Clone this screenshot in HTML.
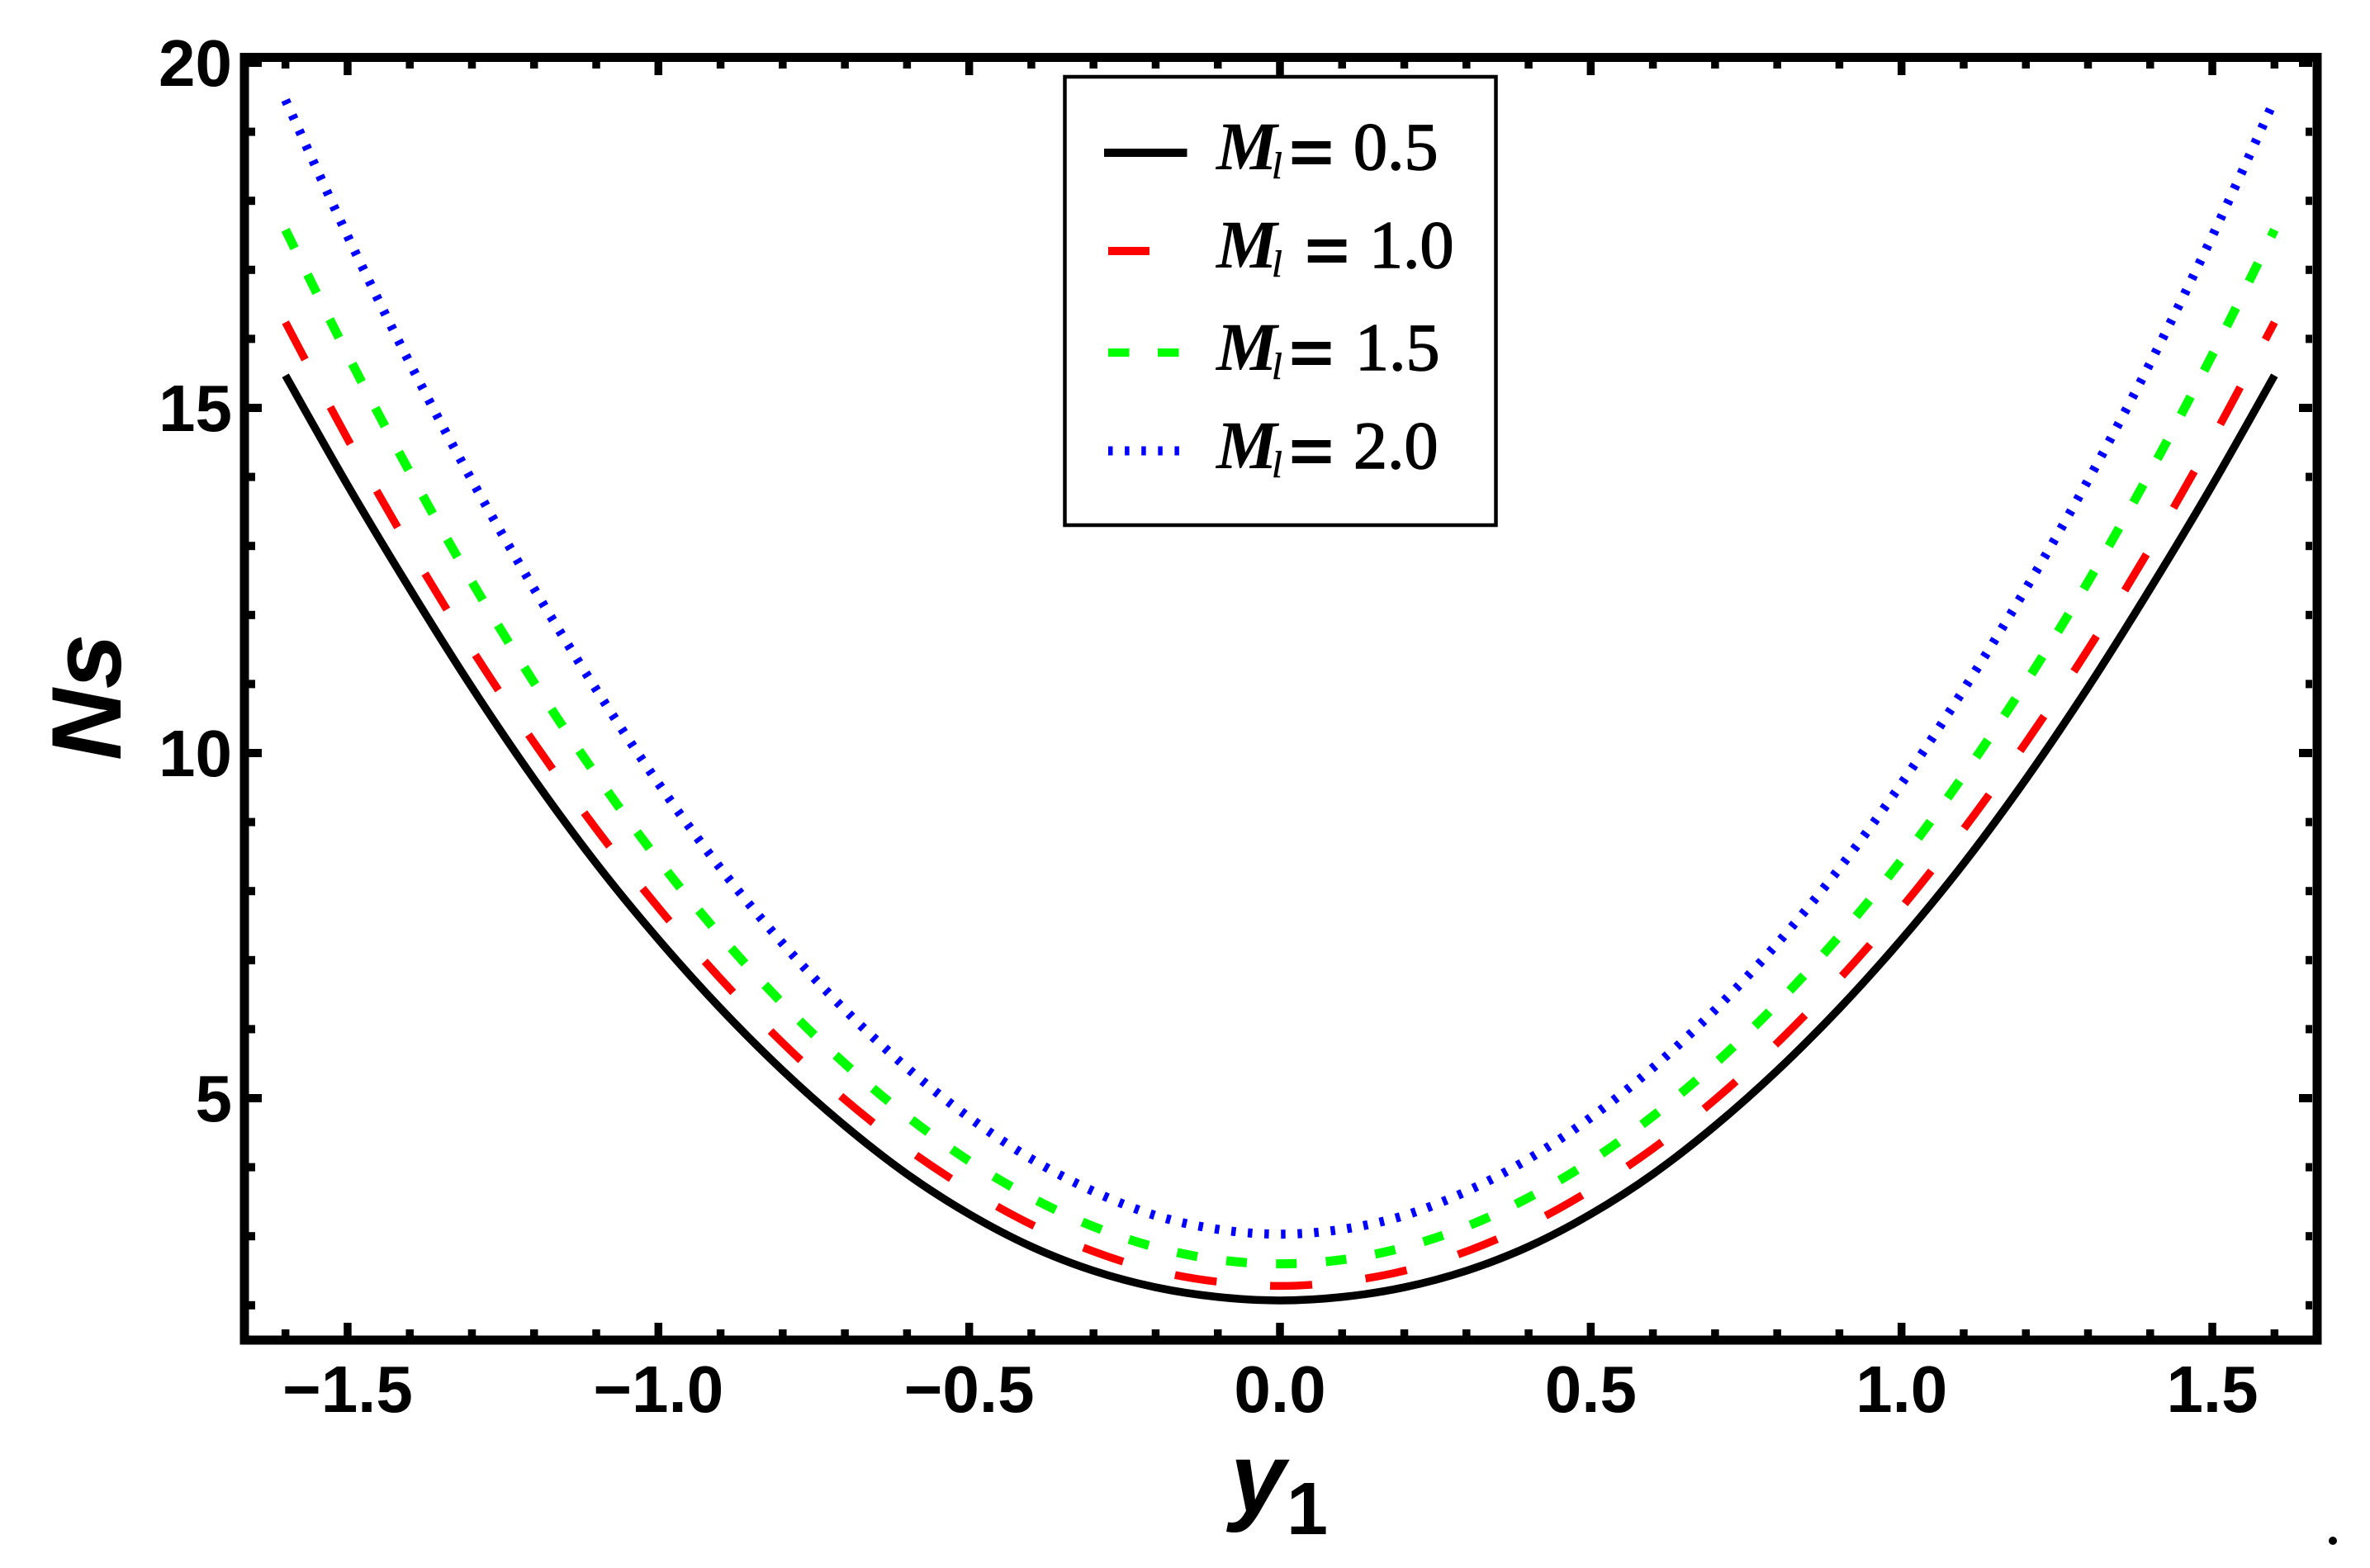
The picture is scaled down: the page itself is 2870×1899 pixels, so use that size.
<!DOCTYPE html>
<html>
<head>
<meta charset="utf-8">
<title>Ns versus y1 chart</title>
<style>
html,body{margin:0;padding:0;background:#fff;}
svg{display:block;}
.tick-label{font-family:"Liberation Sans",Arial,sans-serif;font-weight:700;font-size:80px;fill:#000;}
.axis-title{font-family:"Liberation Sans",Arial,sans-serif;font-weight:700;font-style:italic;fill:#000;}
.axis-sub{font-family:"Liberation Sans",Arial,sans-serif;font-weight:700;fill:#000;}
.lg-m{font-family:"Liberation Serif",serif;font-weight:700;font-style:italic;font-size:83px;fill:#000;}
.lg-sub{font-family:"Liberation Serif",serif;font-style:italic;font-size:46px;fill:#000;stroke:#000;stroke-width:0.6px;}
.lg-eq{font-family:"Liberation Serif",serif;font-weight:700;font-size:96px;fill:#000;stroke:#000;stroke-width:2px;}
.lg-val{font-family:"Liberation Serif",serif;font-size:82px;fill:#000;stroke:#000;stroke-width:1.5px;}
</style>
</head>
<body>
<svg id="chart" xmlns="http://www.w3.org/2000/svg" width="2870" height="1899" viewBox="0 0 2870 1899">
  <rect x="0" y="0" width="2870" height="1899" fill="#fff"/>
  <g id="ticks"></g>
  <g id="series"></g>
  <rect x="296" y="69.5" width="2510" height="1553.5" fill="none" stroke="#000" stroke-width="11"/>
  <g id="labels"></g>
  <text class="axis-title" font-size="120" transform="translate(146 921) rotate(-90)">Ns</text>
  <g>
    <text class="axis-title" font-size="120" x="1490" y="1831">y</text>
    <text class="axis-sub" font-size="90" x="1558" y="1858">1</text>
  </g>
  <g>
    <rect x="1289.5" y="93" width="522" height="543" fill="#fff" stroke="#000" stroke-width="4.5"/>
    <g>
      <line x1="1337" y1="185" x2="1437.5" y2="185" stroke="#000" stroke-width="10"/>
      <text class="lg-m" x="1473" y="205">M</text><text class="lg-sub" x="1540" y="216">l</text>
      <text class="lg-eq" x="1561" y="217">=</text><text class="lg-val" x="1639" y="205">0.5</text>
    </g>
    <g>
      <line x1="1342" y1="304" x2="1392" y2="304" stroke="#ff0000" stroke-width="10"/>
      <text class="lg-m" x="1473" y="324">M</text><text class="lg-sub" x="1540" y="335">l</text>
      <text class="lg-eq" x="1580" y="336">=</text><text class="lg-val" x="1658" y="324">1.0</text>
    </g>
    <g>
      <line x1="1342" y1="427" x2="1428" y2="427" stroke="#00ff00" stroke-width="10" stroke-dasharray="25.5 34.5"/>
      <text class="lg-m" x="1473" y="448">M</text><text class="lg-sub" x="1540" y="459">l</text>
      <text class="lg-eq" x="1561" y="460">=</text><text class="lg-val" x="1641" y="448">1.5</text>
    </g>
    <g>
      <line x1="1342" y1="546" x2="1428" y2="546" stroke="#0000ff" stroke-width="11" stroke-dasharray="5.5 14.6"/>
      <text class="lg-m" x="1473" y="567">M</text><text class="lg-sub" x="1540" y="578">l</text>
      <text class="lg-eq" x="1561" y="579">=</text><text class="lg-val" x="1639" y="567">2.0</text>
    </g>
  </g>
  <circle cx="2825" cy="1866" r="5" fill="#000"/>
</svg>
<script>
const y1Values = [-1.6,-1.5,-1.4,-1.3,-1.2,-1.1,-1.0,-0.9,-0.8,-0.7,-0.6,-0.5,-0.4,-0.3,-0.2,-0.1,0,0.1,0.2,0.3,0.4,0.5,0.6,0.7,0.8,0.9,1.0,1.1,1.2,1.3,1.4,1.5,1.6];
const nsM05 = [15.47,13.88,12.38,10.95,9.62,8.4,7.3,6.3,5.4,4.6,3.9,3.32,2.85,2.5,2.26,2.12,2.07,2.12,2.26,2.5,2.85,3.32,3.9,4.6,5.4,6.3,7.3,8.4,9.62,10.95,12.38,13.88,15.47];
const nsM10 = [16.24,14.55,12.97,11.5,10.15,8.9,7.76,6.73,5.8,4.98,4.27,3.67,3.17,2.78,2.5,2.34,2.28,2.34,2.5,2.78,3.17,3.67,4.27,4.98,5.8,6.73,7.76,8.9,10.15,11.5,12.97,14.55,16.24];
const nsM15 = [17.58,15.77,14.07,12.48,11.02,9.68,8.45,7.35,6.37,5.5,4.74,4.09,3.56,3.14,2.84,2.66,2.6,2.66,2.84,3.14,3.56,4.09,4.74,5.5,6.37,7.35,8.45,9.68,11.02,12.48,14.07,15.77,17.58];
const nsM20 = [19.46,17.49,15.65,13.95,12.38,10.92,9.56,8.33,7.24,6.28,5.44,4.72,4.12,3.65,3.3,3.1,3.03,3.1,3.3,3.65,4.12,4.72,5.44,6.28,7.24,8.33,9.56,10.92,12.38,13.95,15.65,17.49,19.46];
const xTickLabels = ["\u22121.5","\u22121.0","\u22120.5","0.0","0.5","1.0","1.5"];
const xTickValues = [-1.5,-1.0,-0.5,0,0.5,1.0,1.5];
const yTickLabels = ["5","10","15","20"];
const yTickValues = [5,10,15,20];

const NS = "http://www.w3.org/2000/svg";
const sx = v => 1550 + v * 752.7;
const sy = v => 1330 - (v - 5) * 83.6;
const FRAME = {left:301, right:2800, top:75, bottom:1618};

function make(tag, attrs) {
  const el = document.createElementNS(NS, tag);
  for (const k in attrs) el.setAttribute(k, attrs[k]);
  return el;
}

function curvePath(xs, ys) {
  const p = xs.map((x, i) => [sx(x), sy(ys[i])]);
  let d = "M" + p[0][0].toFixed(2) + " " + p[0][1].toFixed(2);
  for (let i = 0; i < p.length - 1; i++) {
    const a = p[Math.max(0, i - 1)], b = p[i], c = p[i + 1], e = p[Math.min(p.length - 1, i + 2)];
    const c1x = b[0] + (c[0] - a[0]) / 6, c1y = b[1] + (c[1] - a[1]) / 6;
    const c2x = c[0] - (e[0] - b[0]) / 6, c2y = c[1] - (e[1] - b[1]) / 6;
    d += "C" + c1x.toFixed(2) + " " + c1y.toFixed(2) + " " + c2x.toFixed(2) + " " + c2y.toFixed(2) + " " + c[0].toFixed(2) + " " + c[1].toFixed(2);
  }
  return d;
}

const tickGroup = document.getElementById("ticks");
for (let i = -16; i <= 16; i++) {
  const v = i / 10;
  const major = i % 5 === 0;
  const len = major ? 16 : 8;
  const bottomTick = make("line", {x1: sx(v), x2: sx(v), y1: FRAME.bottom, y2: FRAME.bottom - len, stroke: "#000", "stroke-width": 9.5});
  
  
  tickGroup.appendChild(bottomTick);
  const topTick = make("line", {x1: sx(v), x2: sx(v), y1: FRAME.top, y2: FRAME.top + len, stroke: "#000", "stroke-width": 9.5});
  
  
  tickGroup.appendChild(topTick);
}
for (let v = 2; v <= 20; v++) {
  const major = v % 5 === 0;
  const len = major ? 16 : 8;
  const leftTick = make("line", {x1: FRAME.left, x2: FRAME.left + len, y1: sy(v), y2: sy(v), stroke: "#000", "stroke-width": 10});
  
  
  tickGroup.appendChild(leftTick);
  const rightTick = make("line", {x1: FRAME.right, x2: FRAME.right - len, y1: sy(v), y2: sy(v), stroke: "#000", "stroke-width": 10});
  
  
  tickGroup.appendChild(rightTick);
}

const labelGroup = document.getElementById("labels");
xTickValues.forEach((v, i) => {
  const t = make("text", {class: "tick-label", x: sx(v), y: 1710, "text-anchor": "middle"});
  t.textContent = xTickLabels[i];
  
  
  labelGroup.appendChild(t);
});
yTickValues.forEach((v, i) => {
  const t = make("text", {class: "tick-label", x: 281, y: sy(v) + 28, "text-anchor": "end"});
  t.textContent = yTickLabels[i];
  
  
  labelGroup.appendChild(t);
});

const seriesGroup = document.getElementById("series");
const solidCurve = make("path", {d: curvePath(y1Values, nsM05), fill: "none", stroke: "#000", "stroke-width": 9.5});


seriesGroup.appendChild(solidCurve);
const redCurve = make("path", {d: curvePath(y1Values, nsM10), fill: "none", stroke: "#ff0000", "stroke-width": 9.5, "stroke-dasharray": "51 65"});


seriesGroup.appendChild(redCurve);
const greenCurve = make("path", {d: curvePath(y1Values, nsM15), fill: "none", stroke: "#00ff00", "stroke-width": 11, "stroke-dasharray": "25 35.4"});


seriesGroup.appendChild(greenCurve);
const blueCurve = make("path", {d: curvePath(y1Values, nsM20), fill: "none", stroke: "#0000ff", "stroke-width": 11, "stroke-dasharray": "5.5 14.6"});


seriesGroup.appendChild(blueCurve);
</script>
</body>
</html>
